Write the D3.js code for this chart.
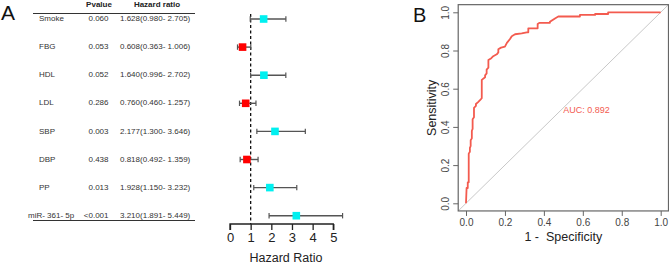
<!DOCTYPE html>
<html><head><meta charset="utf-8">
<script src="https://cdn.jsdelivr.net/npm/d3@7"></script>
<style>body{margin:0;background:#fff}svg{display:block;font-family:"Liberation Sans",Arial,sans-serif}</style>
</head><body>
<svg id="c" width="669" height="265"></svg>
<script>
// ---- Panel A data ----
const variables = ["Smoke","FBG","HDL","LDL","SBP","DBP","PP","miR- 361- 5p"];
const pvalues = ["0.060","0.053","0.052","0.286","0.003","0.438","0.013","<0.001"];
const hr = [1.628,0.608,1.640,0.760,2.177,0.818,1.928,3.210];
const hrLow = [0.980,0.363,0.996,0.460,1.300,0.492,1.150,1.891];
const hrHigh = [2.705,1.006,2.702,1.257,3.646,1.359,3.232,5.449];
const hrTicks = [0,1,2,3,4,5];
// ---- Panel B data ----
const fpr = [0,0.003,0.009,0.009,0.014,0.014,0.02,0.02,0.024,0.024,0.03,0.03,0.034,0.034,0.041,0.041,0.051,0.051,0.062,0.072,0.081,0.081,0.098,0.098,0.106,0.106,0.115,0.115,0.13,0.14,0.158,0.166,0.166,0.18,0.2,0.21,0.226,0.235,0.252,0.286,0.312,0.32,0.32,0.368,0.368,0.378,0.431,0.431,0.457,0.474,0.585,0.585,0.663,0.663,0.73,0.73,1.0];
const tpr = [0,0.08,0.08,0.11,0.11,0.26,0.27,0.29,0.30,0.33,0.34,0.38,0.39,0.44,0.45,0.50,0.51,0.52,0.53,0.54,0.55,0.646,0.66,0.67,0.68,0.70,0.71,0.75,0.76,0.77,0.78,0.79,0.806,0.815,0.82,0.84,0.86,0.875,0.885,0.89,0.895,0.895,0.916,0.916,0.939,0.945,0.945,0.95,0.968,0.978,0.978,0.986,0.986,0.991,0.991,1.0,1.0];
const rocTicks = [0,0.2,0.4,0.6,0.8,1.0];
const aucLabel = "AUC: 0.892";

const svg = d3.select("#c");

// ================= Panel A =================
svg.append("text").attr("x",1).attr("y",20).attr("font-size",21).attr("fill","#111").text("A");
const rowY = d3.scalePoint().domain(variables).range([19, 215.7]);
const tA = svg.append("g").attr("font-size",8).attr("fill","#333");
tA.append("text").attr("x",99).attr("y",4.5).attr("text-anchor","middle").attr("dominant-baseline","middle").attr("font-weight","bold").attr("fill","#222").text("Pvalue");
tA.append("text").attr("x",157).attr("y",4.5).attr("text-anchor","middle").attr("dominant-baseline","middle").attr("font-weight","bold").attr("fill","#222").text("Hazard ratio");
svg.append("line").attr("x1",33).attr("x2",195).attr("y1",13.5).attr("y2",13.5).attr("stroke","#333").attr("stroke-width",1);
svg.append("line").attr("x1",33).attr("x2",195).attr("y1",220.5).attr("y2",220.5).attr("stroke","#333").attr("stroke-width",1);
variables.forEach((v,i)=>{
  const y = rowY(v);
  tA.append("text").attr("x", i===7?28:39).attr("y",y).attr("dominant-baseline","middle").text(v);
  tA.append("text").attr("x",108.5).attr("y",y).attr("text-anchor","end").attr("dominant-baseline","middle").text(pvalues[i]);
  tA.append("text").attr("x",120).attr("y",y).attr("dominant-baseline","middle")
    .text(`${hr[i].toFixed(3)}(${hrLow[i].toFixed(3)}- ${hrHigh[i].toFixed(3)})`);
});

const xF = d3.scaleLinear().domain([0,5]).range([230,333.3]);
svg.append("line").attr("x1",xF(1)).attr("x2",xF(1)).attr("y1",14).attr("y2",224)
  .attr("stroke","#111").attr("stroke-width",1.3).attr("stroke-dasharray","3,2.5");
const gF = svg.append("g");
variables.forEach((v,i)=>{
  const y = rowY(v);
  gF.append("line").attr("x1",xF(hrLow[i])).attr("x2",xF(hrHigh[i])).attr("y1",y).attr("y2",y).attr("stroke","#555").attr("stroke-width",1.4);
  [hrLow[i],hrHigh[i]].forEach(e=>gF.append("line").attr("x1",xF(e)).attr("x2",xF(e)).attr("y1",y-2.7).attr("y2",y+2.7).attr("stroke","#555").attr("stroke-width",1.2));
  gF.append("rect").attr("x",xF(hr[i])-3.8).attr("y",y-3.8).attr("width",7.6).attr("height",7.6)
    .attr("fill", hr[i] < 1 ? "#ff0000" : "#00f0f0");
});
const axF = svg.append("g").attr("transform","translate(0,224)")
  .call(d3.axisBottom(xF).tickValues(hrTicks).tickSize(6).tickPadding(3).tickFormat(d3.format("d")));
axF.select(".domain").attr("stroke","#222").attr("stroke-width",1.3).attr("d",`M${xF(0)},6V0H${xF(5)}V6`);
axF.selectAll(".tick line").attr("stroke","#222").attr("stroke-width",1.3);
axF.selectAll(".tick text").attr("font-size",13).attr("fill","#222").attr("font-family","Liberation Sans, Arial, sans-serif");
svg.append("text").attr("x",286).attr("y",262).attr("text-anchor","middle").attr("font-size",12.5).attr("fill","#222").text("Hazard Ratio");

// ================= Panel B =================
svg.append("text").attr("x",413).attr("y",22).attr("font-size",20).attr("fill","#111").text("B");
const xR = d3.scaleLinear().domain([0,1]).range([466,660.7]);
const yR = d3.scaleLinear().domain([0,1]).range([203.3,12.3]);
const bx0 = xR(-0.04), bx1 = xR(1.04), by0 = yR(-0.04), by1 = yR(1.04);
svg.append("defs").append("clipPath").attr("id","clipR").append("rect")
  .attr("x",bx0).attr("y",by1).attr("width",bx1-bx0).attr("height",by0-by1);
svg.append("line").attr("clip-path","url(#clipR)")
  .attr("x1",xR(-0.04)).attr("y1",yR(-0.04)).attr("x2",xR(1.04)).attr("y2",yR(1.04))
  .attr("stroke","#c8c8c8").attr("stroke-width",1);
svg.append("path").datum(d3.zip(fpr,tpr))
  .attr("d", d3.line().x(d=>xR(d[0])).y(d=>yR(d[1])))
  .attr("fill","none").attr("stroke","#f35b4f").attr("stroke-width",1.8).attr("stroke-linejoin","round");
svg.append("text").attr("x",xR(0.5)).attr("y",yR(0.483)).attr("text-anchor","start").attr("dominant-baseline","middle")
  .attr("font-size",9).attr("fill","#f35b4f").text(aucLabel);
svg.append("rect").attr("x",bx0).attr("y",by1).attr("width",bx1-bx0).attr("height",by0-by1)
  .attr("fill","none").attr("stroke","#666").attr("stroke-width",1.2);
const axX = svg.append("g").attr("transform",`translate(0,${by0})`)
  .call(d3.axisBottom(xR).tickValues(rocTicks).tickSize(5).tickPadding(3).tickFormat(d3.format(".1f")));
axX.select(".domain").remove();
axX.selectAll(".tick line").attr("stroke","#666");
axX.selectAll(".tick text").attr("font-size",10).attr("fill","#444").attr("font-family","Liberation Sans, Arial, sans-serif");
const axY = svg.append("g").attr("transform",`translate(${bx0},0)`)
  .call(d3.axisLeft(yR).tickValues(rocTicks).tickSize(5).tickPadding(3).tickFormat(d3.format(".1f")));
axY.select(".domain").remove();
axY.selectAll(".tick line").attr("stroke","#666");
axY.selectAll(".tick text").attr("font-size",10).attr("fill","#444").attr("font-family","Liberation Sans, Arial, sans-serif")
  .attr("text-anchor","middle").attr("x",0).attr("dy",0)
  .attr("transform","translate(-9,0) rotate(-90)");
svg.append("text").attr("x",(xR(0)+xR(1))/2).attr("y",241).attr("text-anchor","middle").attr("font-size",12.5).attr("fill","#222")
  .style("white-space","pre").text("1 -  Specificity");
svg.append("text").attr("transform",`translate(435.5,${(yR(0)+yR(1))/2}) rotate(-90)`).attr("text-anchor","middle").attr("font-size",12.5).attr("fill","#222").text("Sensitivity");
</script>
</body></html>
